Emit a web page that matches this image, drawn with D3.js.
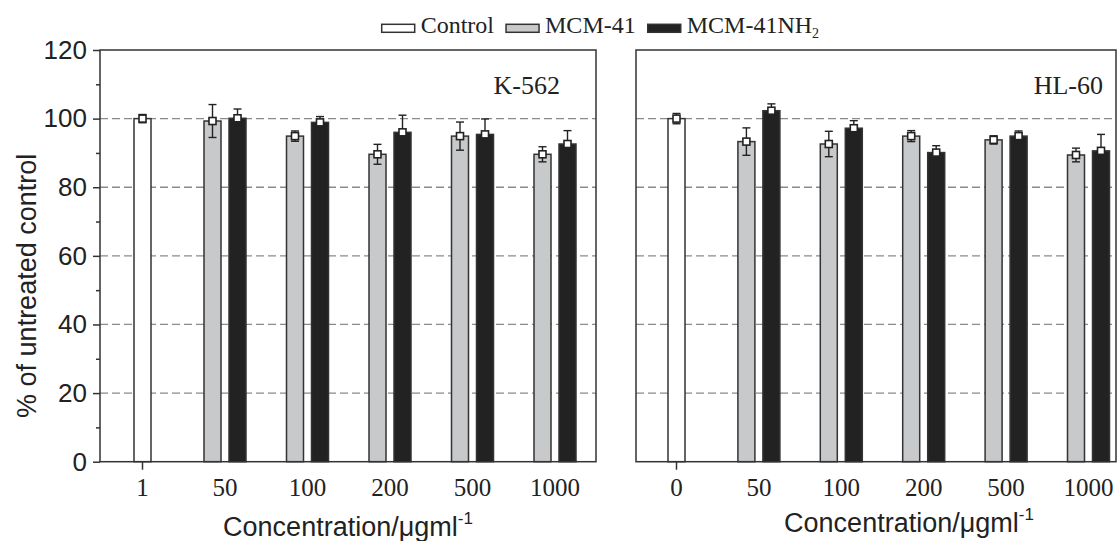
<!DOCTYPE html>
<html>
<head>
<meta charset="utf-8">
<script src="https://cdn.jsdelivr.net/npm/d3@7"></script>
<style>
  html, body { margin: 0; padding: 0; background: #fff; }
  svg { display: block; }
</style>
</head>
<body>
<svg id="chart" width="1117" height="541"></svg>
<script>
// ---------- data ----------
const categoriesK = ["1", "50", "100", "200", "500", "1000"];
const categoriesH = ["0", "50", "100", "200", "500", "1000"];
const concentrations = ["50", "100", "200", "500", "1000"];

const controlK = 100.0, controlKErr = 1.2;
const mcmK     = [99.3, 94.9, 89.6, 94.9, 89.6];
const mcmKErr  = [4.8, 1.5, 2.9, 4.1, 2.2];
const nh2K     = [100.1, 98.9, 96.0, 95.4, 92.6];
const nh2KErr  = [2.7, 1.7, 5.0, 4.5, 3.9];

const controlH = 100.0, controlHErr = 1.5;
const mcmH     = [93.3, 92.6, 94.9, 93.8, 89.4];
const mcmHErr  = [4.0, 3.7, 1.6, 1.2, 2.0];
const nh2H     = [102.3, 97.2, 90.1, 94.9, 90.6];
const nh2HErr  = [2.0, 2.2, 2.0, 1.5, 4.8];

const yTicks = [0, 20, 40, 60, 80, 100, 120];
const yMinorTicks = [10, 30, 50, 70, 90, 110];
const gridValues = [20, 40, 60, 80, 100];
const legendNames = ["Control", "MCM-41", "MCM-41NH"];

// ---------- style ----------
const INK = "#222";
const GRAY = "#c8c9cb";
const BLACK = "#222";
const SERIF = "'Liberation Serif', 'Times New Roman', serif";
const SANS = "'Liberation Sans', Arial, sans-serif";

const svg = d3.select("#chart");

const y = d3.scaleLinear().domain([0, 120]).range([461.7, 50]);

const panels = [
  { cats: categoriesK, left: 100, right: 596, range: [142.5, 555], control: controlK, controlErr: controlKErr,
    mcm: mcmK, mcmErr: mcmKErr, nh2: nh2K, nh2Err: nh2KErr, name: "K-562", nameX: 560, titleX: 348, titleY: 536, yaxis: true },
  { cats: categoriesH, left: 636, right: 1116, range: [676.5, 1088.5], control: controlH, controlErr: controlHErr,
    mcm: mcmH, mcmErr: mcmHErr, nh2: nh2H, nh2Err: nh2HErr, name: "HL-60", nameX: 1103, titleX: 909, titleY: 532, yaxis: false }
];

const barW = 17, inner = 4;

panels.forEach(p => {
  const x = d3.scalePoint().domain(p.cats).range(p.range);
  const g = svg.append("g");

  // gridlines
  g.selectAll("line.grid").data(gridValues).enter().append("line")
    .attr("x1", p.left).attr("x2", p.right)
    .attr("y1", d => y(d)).attr("y2", d => y(d))
    .attr("stroke", "#8a8a8a").attr("stroke-width", 1.3)
    .attr("stroke-dasharray", "8,4");

  // bars data
  const bars = [];
  bars.push({ x0: x(p.cats[0]) - barW / 2, v: p.control, e: p.controlErr, fill: "#fff" });
  concentrations.forEach((c, i) => {
    const cx = x(c);
    bars.push({ x0: cx - inner - barW, v: p.mcm[i], e: p.mcmErr[i], fill: GRAY });
    bars.push({ x0: cx + inner, v: p.nh2[i], e: p.nh2Err[i], fill: BLACK });
  });

  g.selectAll("rect.bar").data(bars).enter().append("rect")
    .attr("x", d => d.x0).attr("width", barW)
    .attr("y", d => y(d.v)).attr("height", d => y(0) - y(d.v))
    .attr("fill", d => d.fill).attr("stroke", "#333").attr("stroke-width", 1.5);

  // error bars
  const eb = g.selectAll("g.err").data(bars).enter().append("g");
  eb.append("line")
    .attr("x1", d => d.x0 + barW / 2).attr("x2", d => d.x0 + barW / 2)
    .attr("y1", d => y(d.v + d.e)).attr("y2", d => y(d.v - d.e))
    .attr("stroke", INK).attr("stroke-width", 1.4);
  eb.append("line")
    .attr("x1", d => d.x0 + barW / 2 - 4).attr("x2", d => d.x0 + barW / 2 + 4)
    .attr("y1", d => y(d.v + d.e)).attr("y2", d => y(d.v + d.e))
    .attr("stroke", INK).attr("stroke-width", 1.4);
  eb.append("line")
    .attr("x1", d => d.x0 + barW / 2 - 4).attr("x2", d => d.x0 + barW / 2 + 4)
    .attr("y1", d => y(d.v - d.e)).attr("y2", d => y(d.v - d.e))
    .attr("stroke", INK).attr("stroke-width", 1.4);
  eb.append("rect")
    .attr("x", d => d.x0 + barW / 2 - 3.5).attr("y", d => y(d.v) - 3.5)
    .attr("width", 7).attr("height", 7)
    .attr("fill", "#fff").attr("stroke", INK).attr("stroke-width", 1.6);

  // frame
  g.append("rect")
    .attr("x", p.left).attr("y", y(120))
    .attr("width", p.right - p.left).attr("height", y(0) - y(120))
    .attr("fill", "none").attr("stroke", "#333").attr("stroke-width", 1.5);

  // x tick (first category only) and labels
  g.append("line")
    .attr("x1", x(p.cats[0])).attr("x2", x(p.cats[0]))
    .attr("y1", y(0)).attr("y2", y(0) + 8)
    .attr("stroke", "#333").attr("stroke-width", 1.5);
  g.selectAll("text.xl").data(p.cats).enter().append("text")
    .attr("x", d => x(d)).attr("y", 496)
    .attr("text-anchor", "middle")
    .attr("font-family", SERIF).attr("font-size", 25).attr("fill", INK)
    .text(d => d);

  // x title
  const t = g.append("text")
    .attr("x", p.titleX).attr("y", p.titleY)
    .attr("text-anchor", "middle")
    .attr("font-family", SANS).attr("font-size", 27).attr("fill", INK);
  t.append("tspan").text("Concentration/\u03bcgml");
  t.append("tspan").attr("dy", -12).attr("font-size", 17).text("-1");

  // panel name
  g.append("text")
    .attr("x", p.nameX).attr("y", 94)
    .attr("text-anchor", "end")
    .attr("font-family", SERIF).attr("font-size", 26).attr("fill", INK)
    .text(p.name);

  if (p.yaxis) {
    const ax = g.append("g").attr("transform", `translate(${p.left},0)`)
      .call(d3.axisLeft(y).tickValues(yTicks).tickSize(7).tickPadding(6).tickFormat(d3.format("d")));
    ax.select(".domain").remove();
    ax.selectAll(".tick line").attr("stroke", "#333").attr("stroke-width", 1.5);
    ax.selectAll(".tick text").attr("font-family", SANS).attr("font-size", 26).attr("fill", INK);
    const axm = g.append("g").attr("transform", `translate(${p.left},0)`)
      .call(d3.axisLeft(y).tickValues(yMinorTicks).tickSize(4).tickFormat(""));
    axm.select(".domain").remove();
    axm.selectAll(".tick line").attr("stroke", "#333").attr("stroke-width", 1.5);

    g.append("text")
      .attr("transform", `translate(36,${(y(0) + y(120)) / 2 + 30}) rotate(-90)`)
      .attr("text-anchor", "middle")
      .attr("font-family", SANS).attr("font-size", 27).attr("fill", INK)
      .text("% of untreated control");
  }
});

// ---------- legend ----------
const legendFills = ["#fff", GRAY, BLACK];
const lg = svg.append("g");
let lx = 381.7;
legendNames.forEach((name, i) => {
  lg.append("rect").attr("x", lx).attr("y", 24.3).attr("width", 33).attr("height", 8)
    .attr("fill", legendFills[i]).attr("stroke", "#333").attr("stroke-width", 1.5);
  lx += 33 + 6;
  const tx = lg.append("text").attr("x", lx).attr("y", 32.5)
    .attr("font-family", SERIF).attr("font-size", 24).attr("fill", INK);
  tx.append("tspan").text(name);
  if (i === 2) tx.append("tspan").attr("dy", 5).attr("font-size", 14).text("2");
  lx += tx.node().getComputedTextLength() + 12;
});
</script>
</body>
</html>
